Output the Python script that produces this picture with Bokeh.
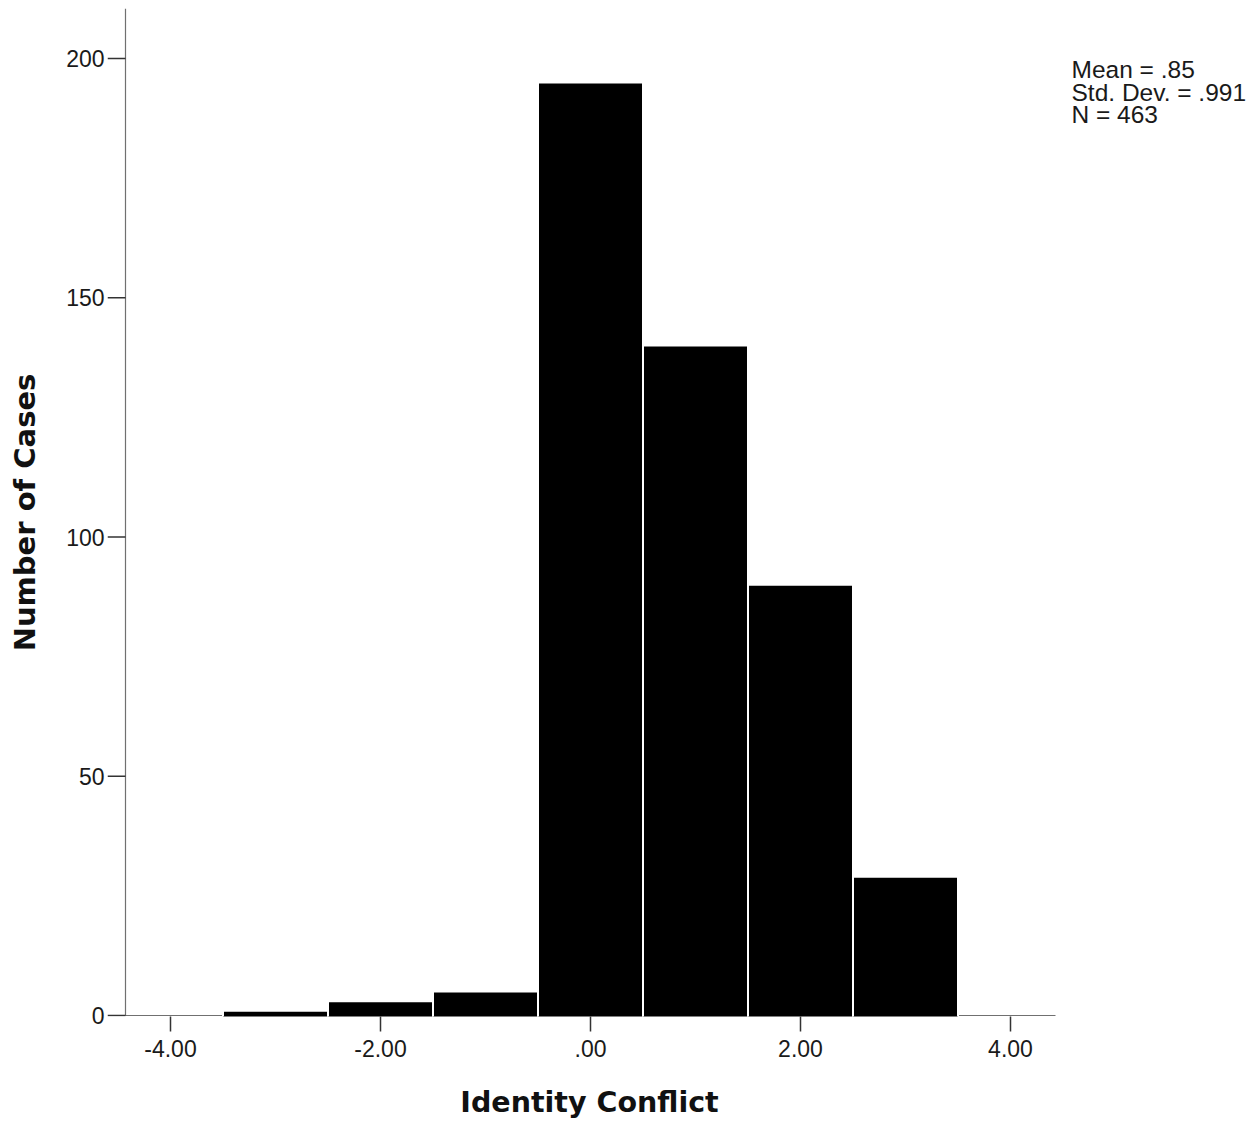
from bokeh.plotting import figure
from bokeh.models import FixedTicker, Range1d
from bokeh.layouts import row
from bokeh.core.properties import value
from bokeh.embed import file_html
from bokeh.resources import INLINE

# ---- data ----
bin_centers = [-3, -2, -1, 0, 1, 2, 3]
counts = [1, 3, 5, 195, 140, 90, 29]
x_ticks = [-4, -2, 0, 2, 4]
x_tick_labels = ["-4.00", "-2.00", ".00", "2.00", "4.00"]
y_ticks = [0, 50, 100, 150, 200]
y_tick_labels = ["0", "50", "100", "150", "200"]
stats_lines = ["Mean = .85", "Std. Dev. = .991", "N = 463"]
x_title = "Identity Conflict"
y_title = "Number of Cases"

# ---- scales ----
X_START, X_END = -4.6, 4.581
AXIS_X = -4.4286          # where the y axis is drawn
X_LINE_START, X_LINE_END = -4.571, 4.4286
Y_START, Y_END = -0.209, 210.45

H = 1122
p = figure(width=1071, height=H, output_backend="svg", toolbar_location=None,
           x_range=Range1d(X_START, X_END), y_range=Range1d(Y_START, Y_END),
           min_border_left=107, min_border_right=0, min_border_top=8, min_border_bottom=106)
p.outline_line_color = None
p.grid.visible = False
p.background_fill_color = "white"

# axis lines (drawn first so bar outlines cut them like SPSS)
p.segment(x0=[X_LINE_START], y0=[0], x1=[X_LINE_END], y1=[0], line_color="#707070", line_width=1.2)
p.segment(x0=[AXIS_X], y0=[0], x1=[AXIS_X], y1=[Y_END], line_color="#707070", line_width=1.2)
p.segment(x0=[X_START] * len(y_ticks), y0=y_ticks, x1=[AXIS_X] * len(y_ticks), y1=y_ticks,
          line_color="#333333", line_width=1.5)

# bars
lefts = [c - 0.5 for c in bin_centers]
rights = [c + 0.5 for c in bin_centers]
p.quad(left=lefts, right=rights, top=counts, bottom=[Y_START - 5] * len(counts),
       fill_color="black", line_color="white", line_width=2)

# x axis
xa = p.xaxis[0]
xa.ticker = FixedTicker(ticks=x_ticks)
xa.major_label_overrides = {t: l for t, l in zip(x_ticks, x_tick_labels)}
xa.axis_line_color = None
xa.major_tick_out = 15
xa.major_tick_in = 0
xa.major_tick_line_color = "#333333"
xa.major_tick_line_width = 1.5
xa.minor_tick_line_color = None
xa.major_label_standoff = 8
xa.major_label_text_font = "Liberation Sans"
xa.major_label_text_font_size = "23px"
xa.major_label_text_color = "#1a1a1a"
xa.axis_label = x_title
xa.axis_label_text_font = "DejaVu Sans"
xa.axis_label_text_font_style = "bold"
xa.axis_label_text_font_size = "28.5px"
xa.axis_label_text_color = "#111111"
xa.axis_label_standoff = 26

# y axis
ya = p.yaxis[0]
ya.ticker = FixedTicker(ticks=y_ticks)
ya.major_label_overrides = {t: l for t, l in zip(y_ticks, y_tick_labels)}
ya.axis_line_color = None
ya.major_tick_out = 0
ya.major_tick_in = 0
ya.major_tick_line_color = None
ya.minor_tick_line_color = None
ya.major_label_standoff = 3
ya.major_label_text_font = "Liberation Sans"
ya.major_label_text_font_size = "23px"
ya.major_label_text_color = "#1a1a1a"
ya.axis_label = y_title
ya.axis_label_text_font = "DejaVu Sans"
ya.axis_label_text_font_style = "bold"
ya.axis_label_text_font_size = "29px"
ya.axis_label_text_color = "#111111"
ya.axis_label_standoff = 21

# statistics box (separate panel to the right of the chart)
W2 = 182
p2 = figure(width=W2, height=H, output_backend="svg", toolbar_location=None,
            x_axis_type=None, y_axis_type=None,
            x_range=Range1d(0, W2), y_range=Range1d(H, 0),
            min_border_left=0, min_border_right=0, min_border_top=0, min_border_bottom=0)
p2.outline_line_color = None
p2.grid.visible = False
stat_y = [68 + 25 * i for i in range(len(stats_lines))]
p2.text(x=[0] * len(stats_lines), y=stat_y, text=stats_lines,
        text_font=value("Liberation Sans"), text_font_size="24.5px", text_color="#1a1a1a",
        text_baseline="middle", text_align="left")

layout = row(p, p2, spacing=0)
open("out.html", "w").write(file_html(layout, INLINE))
